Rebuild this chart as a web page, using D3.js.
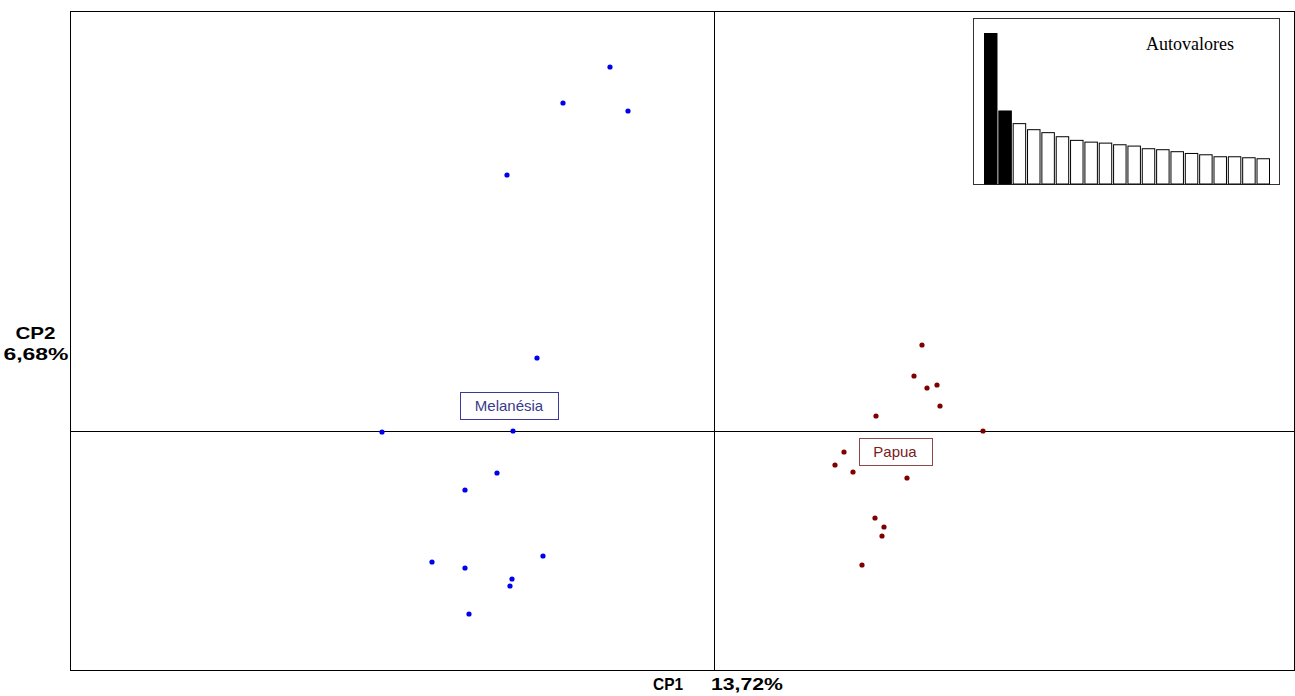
<!DOCTYPE html>
<html>
<head>
<meta charset="utf-8">
<script src="https://cdn.jsdelivr.net/npm/d3@7"></script>
<style>
  body { margin: 0; background: #fff; }
  svg { display: block; }
</style>
</head>
<body>
<svg id="chart" width="1295" height="696"></svg>
<script>
// PCA scores (CP1, CP2)
var melanesiaX = [-1.04, -1.51, -0.86, -2.07, -1.77, -3.32, -2.01, -2.17, -2.49, -1.71, -2.82, -2.49, -2.02, -2.04, -2.45];
var melanesiaY = [ 3.64,  3.28,  3.20,  2.56,  0.73, -0.01,  0.00, -0.42, -0.59, -1.25, -1.31, -1.37, -1.48, -1.55, -1.83];
var papuaX = [2.08, 2.00, 2.13, 2.23, 2.26, 1.62, 2.69, 1.30, 1.21, 1.39, 1.93, 1.61, 1.70, 1.68, 1.48];
var papuaY = [0.86, 0.55, 0.43, 0.46, 0.25, 0.15, 0.00, -0.21, -0.34, -0.41, -0.47, -0.87, -0.96, -1.05, -1.34];

// eigenvalues (% of variance)
var eigenvalues = [13.72, 6.68, 5.53, 4.98, 4.71, 4.34, 4.01, 3.85, 3.76, 3.61, 3.49, 3.25, 3.16, 2.98, 2.82, 2.70, 2.52, 2.52, 2.43, 2.34];
var nKept = 2;

var groups = [
  {name: "Melanésia", xs: melanesiaX, ys: melanesiaY, color: "#0000ee", labelX: -2.05, labelY: 0.245, box: "#3a3a9a", text: "#3a3a8a"},
  {name: "Papua", xs: papuaX, ys: papuaY, color: "#7f0000", labelX: 1.81, labelY: -0.21, box: "#8a4a4a", text: "#7a2020"}
];

var svg = d3.select("#chart");
var mLeft = 70, mRight = 1294, mTop = 11, mBottom = 670;

var x = d3.scaleLinear().domain([-6.44, 5.80]).range([mLeft, mRight]);
var y = d3.scaleLinear().domain([-2.39, 4.20]).range([mBottom, mTop]);

// frame
svg.append("rect")
    .attr("x", mLeft + 0.5).attr("y", mTop + 0.5)
    .attr("width", mRight - mLeft).attr("height", mBottom - mTop)
    .attr("fill", "none").attr("stroke", "#000").attr("stroke-width", 1);

// zero axes
svg.append("line")
    .attr("x1", mLeft).attr("x2", mRight + 1)
    .attr("y1", Math.round(y(0)) + 0.5).attr("y2", Math.round(y(0)) + 0.5)
    .attr("stroke", "#000");
svg.append("line")
    .attr("x1", Math.round(x(0)) + 0.5).attr("x2", Math.round(x(0)) + 0.5)
    .attr("y1", mTop).attr("y2", mBottom)
    .attr("stroke", "#000");

// points
groups.forEach(function(g){
    svg.append("g")
      .selectAll("circle")
      .data(d3.range(g.xs.length))
      .enter().append("circle")
      .attr("cx", function(i){ return x(g.xs[i]); })
      .attr("cy", function(i){ return y(g.ys[i]); })
      .attr("r", 2.6)
      .attr("fill", g.color);
});

// group labels
groups.forEach(function(g){
    var lab = svg.append("g")
        .attr("transform", "translate(" + Math.round(x(g.labelX)) + "," + Math.round(y(g.labelY)) + ")");
    var t = lab.append("text")
        .attr("text-anchor", "middle")
        .attr("dy", "0.36em")
        .attr("font-family", "Arial, 'Liberation Sans', sans-serif")
        .attr("font-size", 15)
        .attr("fill", g.text)
        .text(g.name);
    var w = Math.round(t.node().getComputedTextLength() + 30);
    lab.insert("rect", "text")
        .attr("x", Math.round(-w / 2) + 0.5).attr("y", -13.5)
        .attr("width", w).attr("height", 27)
        .attr("fill", "#fff")
        .attr("stroke", g.box);
});

// axis titles
var sans = "Arial, 'Liberation Sans', sans-serif";
function boldText(str, xPos, yPos, len){
    svg.append("text")
        .attr("x", xPos).attr("y", yPos)
        .attr("font-family", sans).attr("font-weight", "bold").attr("font-size", 17)
        .attr("textLength", len).attr("lengthAdjust", "spacingAndGlyphs")
        .text(str);
}
boldText("CP1", 653, 690, 30);
boldText("13,72%", 711, 690, 72);
boldText("CP2", 15.5, 339, 40);
boldText("6,68%", 3.5, 360, 65);

// eigenvalue inset
var inset = {x0: 973, y0: 18, x1: 1279, y1: 184};
svg.append("rect")
    .attr("x", inset.x0 + 0.5).attr("y", inset.y0 + 0.5)
    .attr("width", inset.x1 - inset.x0).attr("height", inset.y1 - inset.y0)
    .attr("fill", "#fff").attr("stroke", "#333");

var bx = d3.scaleBand().domain(d3.range(eigenvalues.length)).range([984, 1270]).paddingInner(0.06);
var by = d3.scaleLinear().domain([0, eigenvalues[0]]).range([inset.y1, 33]);

svg.append("g")
  .selectAll("rect")
  .data(eigenvalues)
  .enter().append("rect")
  .attr("x", function(d, i){ return bx(i) + 0.5; })
  .attr("y", function(d){ return by(d) + 0.5; })
  .attr("width", bx.bandwidth() - 1)
  .attr("height", function(d){ return inset.y1 - by(d) - 0.5; })
  .attr("fill", function(d, i){ return i < nKept ? "#000" : "#fff"; })
  .attr("stroke", "#000");

svg.append("text")
    .attr("x", 1146).attr("y", 50)
    .attr("font-family", "'Liberation Serif', 'Times New Roman', serif")
    .attr("font-size", 18)
    .attr("textLength", 88).attr("lengthAdjust", "spacingAndGlyphs")
    .text("Autovalores");
</script>
</body>
</html>
